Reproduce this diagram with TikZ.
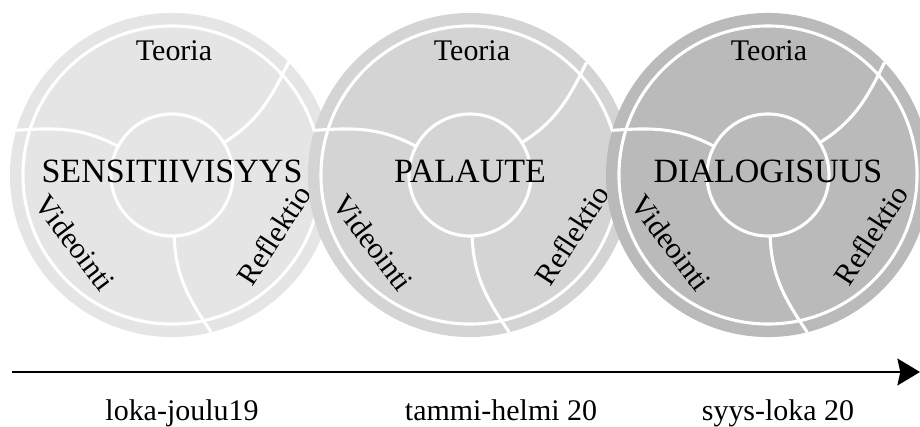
\documentclass[tikz,border=0pt]{standalone}
\usepackage{fontspec}
\setmainfont{Liberation Serif}
\usetikzlibrary{arrows.meta}
\definecolor{stageA}{gray}{0.90}
\definecolor{stageB}{gray}{0.83}
\definecolor{stageC}{gray}{0.73}

\begin{document}
\begin{tikzpicture}[x=0.025cm,y=0.025cm]
    \tikzstyle{every node}=[font=\fontsize{21.3}{24}\selectfont]
    \tikzstyle{disc}=[circle,inner sep=0pt,outer sep=0pt,minimum size=8.1cm]
    \tikzstyle{whitering}=[circle,draw=white,line width=2.2pt,inner sep=0pt,outer sep=0pt,minimum size=7.45cm]
    \tikzstyle{core}=[circle,draw=white,line width=2.2pt,inner sep=0pt,outer sep=0pt,minimum size=3.05cm]
    \tikzstyle{divider}=[draw=white,line width=2.2pt]
    \tikzstyle{theme}=[anchor=base,font=\fontsize{24.2}{28}\selectfont]
    \useasboundingbox (0,0) rectangle (920,-427);

    \node[disc,fill=stageA] (c1) at (172,-175) {};
    \node[whitering] (r1) at (c1) {};
    \node[core] (i1) at (c1) {};
    \draw[divider] (i1.32) to[out=32,in=244] (c1.44);
    \draw[divider] (i1.152) to[out=152,in=4] (c1.164);
    \draw[divider] (i1.272) to[out=272,in=124] (c1.284);
    \node[anchor=base] (t1) at (174,-61) {Teoria};
    \node[theme] (m1) at (172,-182) {SENSITIIVISYYS};
    \node[rotate=-53] (v1) at (75,-243) {Videointi};
    \node[rotate=57] (f1) at (274,-235) {Reflektio};

    \node[disc,fill=stageB] (c2) at (470,-175) {};
    \node[whitering] (r2) at (c2) {};
    \node[core] (i2) at (c2) {};
    \draw[divider] (i2.32) to[out=32,in=244] (c2.44);
    \draw[divider] (i2.152) to[out=152,in=4] (c2.164);
    \draw[divider] (i2.272) to[out=272,in=124] (c2.284);
    \node[anchor=base] (t2) at (472,-61) {Teoria};
    \node[theme] (m2) at (470,-182) {PALAUTE};
    \node[rotate=-53] (v2) at (373,-243) {Videointi};
    \node[rotate=57] (f2) at (572,-235) {Reflektio};

    \node[disc,fill=stageC] (c3) at (768,-175) {};
    \node[whitering] (r3) at (c3) {};
    \node[core] (i3) at (c3) {};
    \draw[divider] (i3.32) to[out=32,in=244] (c3.44);
    \draw[divider] (i3.152) to[out=152,in=4] (c3.164);
    \draw[divider] (i3.272) to[out=272,in=124] (c3.284);
    \node[anchor=base] (t3) at (769,-61) {Teoria};
    \node[theme] (m3) at (768,-182) {DIALOGISUUS};
    \node[rotate=-53] (v3) at (671,-243) {Videointi};
    \node[rotate=57] (f3) at (871,-235) {Reflektio};

    \coordinate (a0) at (12,-372);
    \coordinate (a1) at (920,-372);
    \draw[line width=2.1pt,-{Stealth[length=16pt,width=19pt,inset=2pt]}] (a0) -- (a1);

    \node[anchor=base] (d1) at (182,-420) {loka-joulu19};
    \node[anchor=base] (d2) at (501,-420) {tammi-helmi 20};
    \node[anchor=base] (d3) at (778,-420) {syys-loka 20};
\end{tikzpicture}
\end{document}
